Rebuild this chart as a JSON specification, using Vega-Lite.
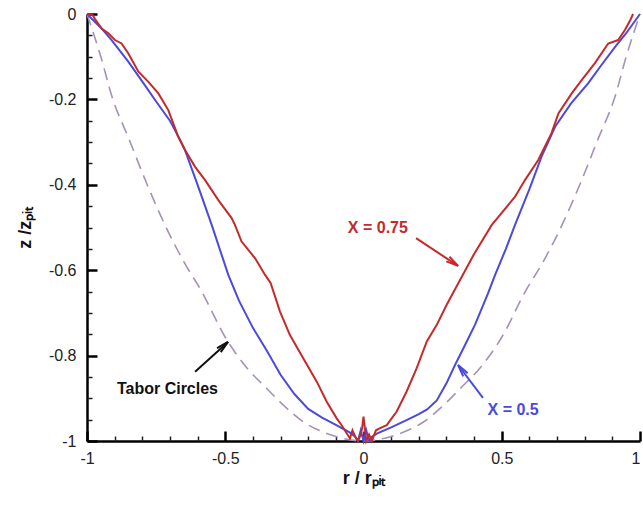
{
  "$schema": "https://vega.github.io/schema/vega-lite/v6.json",
  "autosize": {"type": "none"},
  "width": 553,
  "height": 427,
  "padding": {"left": 87, "top": 14, "right": 3, "bottom": 65},
  "background": "white",
  "config": {
    "view": {"stroke": null},
    "font": "Liberation Sans",
    "axis": {"grid": false}
  },
  "datasets": {
    "profiles": [
      {"series": "tabor", "r": -1.0, "z": 0},
      {"series": "tabor", "r": -0.95, "z": -0.1},
      {"series": "tabor", "r": -0.908, "z": -0.197},
      {"series": "tabor", "r": -0.85, "z": -0.29},
      {"series": "tabor", "r": -0.784, "z": -0.397},
      {"series": "tabor", "r": -0.718, "z": -0.494},
      {"series": "tabor", "r": -0.65, "z": -0.58},
      {"series": "tabor", "r": -0.585, "z": -0.65},
      {"series": "tabor", "r": -0.5, "z": -0.757},
      {"series": "tabor", "r": -0.42, "z": -0.83},
      {"series": "tabor", "r": -0.35, "z": -0.877},
      {"series": "tabor", "r": -0.28, "z": -0.922},
      {"series": "tabor", "r": -0.218, "z": -0.955},
      {"series": "tabor", "r": -0.15, "z": -0.978},
      {"series": "tabor", "r": -0.097, "z": -0.99},
      {"series": "tabor", "r": 0.0, "z": -1.0},
      {"series": "tabor", "r": 0.097, "z": -0.99},
      {"series": "tabor", "r": 0.15, "z": -0.978},
      {"series": "tabor", "r": 0.218, "z": -0.955},
      {"series": "tabor", "r": 0.28, "z": -0.922},
      {"series": "tabor", "r": 0.35, "z": -0.877},
      {"series": "tabor", "r": 0.42, "z": -0.83},
      {"series": "tabor", "r": 0.5, "z": -0.757},
      {"series": "tabor", "r": 0.585, "z": -0.65},
      {"series": "tabor", "r": 0.65, "z": -0.58},
      {"series": "tabor", "r": 0.718, "z": -0.494},
      {"series": "tabor", "r": 0.784, "z": -0.397},
      {"series": "tabor", "r": 0.85, "z": -0.29},
      {"series": "tabor", "r": 0.908, "z": -0.197},
      {"series": "tabor", "r": 0.95, "z": -0.1},
      {"series": "tabor", "r": 1.0, "z": 0},

      {"series": "x05", "r": -1.0, "z": 0},
      {"series": "x05", "r": -0.95, "z": -0.032},
      {"series": "x05", "r": -0.911, "z": -0.061},
      {"series": "x05", "r": -0.85, "z": -0.112},
      {"series": "x05", "r": -0.796, "z": -0.162},
      {"series": "x05", "r": -0.75, "z": -0.205},
      {"series": "x05", "r": -0.7, "z": -0.25},
      {"series": "x05", "r": -0.682, "z": -0.272},
      {"series": "x05", "r": -0.646, "z": -0.318},
      {"series": "x05", "r": -0.6, "z": -0.4},
      {"series": "x05", "r": -0.549, "z": -0.494},
      {"series": "x05", "r": -0.489, "z": -0.611},
      {"series": "x05", "r": -0.45, "z": -0.672},
      {"series": "x05", "r": -0.4, "z": -0.735},
      {"series": "x05", "r": -0.35, "z": -0.788},
      {"series": "x05", "r": -0.3, "z": -0.845},
      {"series": "x05", "r": -0.25, "z": -0.89},
      {"series": "x05", "r": -0.2, "z": -0.925},
      {"series": "x05", "r": -0.15, "z": -0.945},
      {"series": "x05", "r": -0.1, "z": -0.962},
      {"series": "x05", "r": -0.05, "z": -0.98},
      {"series": "x05", "r": -0.03, "z": -0.99},
      {"series": "x05", "r": -0.02, "z": -1.0},
      {"series": "x05", "r": -0.01, "z": -0.975},
      {"series": "x05", "r": 0.0, "z": -1.0},
      {"series": "x05", "r": 0.01, "z": -0.975},
      {"series": "x05", "r": 0.02, "z": -1.0},
      {"series": "x05", "r": 0.03, "z": -0.99},
      {"series": "x05", "r": 0.05, "z": -0.982},
      {"series": "x05", "r": 0.1, "z": -0.968},
      {"series": "x05", "r": 0.15, "z": -0.953},
      {"series": "x05", "r": 0.2, "z": -0.937},
      {"series": "x05", "r": 0.23, "z": -0.926},
      {"series": "x05", "r": 0.265, "z": -0.905},
      {"series": "x05", "r": 0.3, "z": -0.865},
      {"series": "x05", "r": 0.331, "z": -0.822},
      {"series": "x05", "r": 0.365, "z": -0.778},
      {"series": "x05", "r": 0.403, "z": -0.728},
      {"series": "x05", "r": 0.45, "z": -0.655},
      {"series": "x05", "r": 0.476, "z": -0.611},
      {"series": "x05", "r": 0.515, "z": -0.55},
      {"series": "x05", "r": 0.548, "z": -0.494},
      {"series": "x05", "r": 0.6, "z": -0.41},
      {"series": "x05", "r": 0.644, "z": -0.334},
      {"series": "x05", "r": 0.693, "z": -0.264},
      {"series": "x05", "r": 0.75, "z": -0.21},
      {"series": "x05", "r": 0.813, "z": -0.162},
      {"series": "x05", "r": 0.86, "z": -0.12},
      {"series": "x05", "r": 0.91, "z": -0.077},
      {"series": "x05", "r": 0.95, "z": -0.045},
      {"series": "x05", "r": 1.0, "z": 0},

      {"series": "x075", "r": -1.0, "z": 0},
      {"series": "x075", "r": -0.98, "z": -0.002},
      {"series": "x075", "r": -0.971, "z": -0.012},
      {"series": "x075", "r": -0.947, "z": -0.034},
      {"series": "x075", "r": -0.923, "z": -0.045},
      {"series": "x075", "r": -0.899, "z": -0.061},
      {"series": "x075", "r": -0.875, "z": -0.069},
      {"series": "x075", "r": -0.851, "z": -0.092},
      {"series": "x075", "r": -0.814, "z": -0.135},
      {"series": "x075", "r": -0.778, "z": -0.159},
      {"series": "x075", "r": -0.742, "z": -0.186},
      {"series": "x075", "r": -0.706, "z": -0.225},
      {"series": "x075", "r": -0.67, "z": -0.287},
      {"series": "x075", "r": -0.646, "z": -0.318},
      {"series": "x075", "r": -0.609, "z": -0.358},
      {"series": "x075", "r": -0.573, "z": -0.389},
      {"series": "x075", "r": -0.525, "z": -0.436},
      {"series": "x075", "r": -0.477, "z": -0.478},
      {"series": "x075", "r": -0.465, "z": -0.494},
      {"series": "x075", "r": -0.441, "z": -0.533},
      {"series": "x075", "r": -0.392, "z": -0.572},
      {"series": "x075", "r": -0.356, "z": -0.611},
      {"series": "x075", "r": -0.336, "z": -0.63},
      {"series": "x075", "r": -0.302, "z": -0.697},
      {"series": "x075", "r": -0.266, "z": -0.752},
      {"series": "x075", "r": -0.218, "z": -0.806},
      {"series": "x075", "r": -0.169, "z": -0.861},
      {"series": "x075", "r": -0.133, "z": -0.908},
      {"series": "x075", "r": -0.097, "z": -0.947},
      {"series": "x075", "r": -0.079, "z": -0.963},
      {"series": "x075", "r": -0.049, "z": -0.994},
      {"series": "x075", "r": -0.04, "z": -0.975},
      {"series": "x075", "r": -0.03, "z": -0.99},
      {"series": "x075", "r": -0.02, "z": -1.0},
      {"series": "x075", "r": -0.01, "z": -0.985},
      {"series": "x075", "r": -0.005, "z": -0.97},
      {"series": "x075", "r": 0.0, "z": -0.943},
      {"series": "x075", "r": 0.005, "z": -0.97},
      {"series": "x075", "r": 0.01, "z": -1.0},
      {"series": "x075", "r": 0.02, "z": -0.985},
      {"series": "x075", "r": 0.03, "z": -1.0},
      {"series": "x075", "r": 0.045, "z": -0.975},
      {"series": "x075", "r": 0.06, "z": -0.97},
      {"series": "x075", "r": 0.084, "z": -0.963},
      {"series": "x075", "r": 0.12, "z": -0.931},
      {"series": "x075", "r": 0.156, "z": -0.884},
      {"series": "x075", "r": 0.192, "z": -0.83},
      {"series": "x075", "r": 0.229, "z": -0.767},
      {"series": "x075", "r": 0.265, "z": -0.728},
      {"series": "x075", "r": 0.301, "z": -0.681},
      {"series": "x075", "r": 0.335, "z": -0.64},
      {"series": "x075", "r": 0.4, "z": -0.562},
      {"series": "x075", "r": 0.464, "z": -0.494},
      {"series": "x075", "r": 0.488, "z": -0.475},
      {"series": "x075", "r": 0.548, "z": -0.428},
      {"series": "x075", "r": 0.584, "z": -0.389},
      {"series": "x075", "r": 0.632, "z": -0.342},
      {"series": "x075", "r": 0.68, "z": -0.279},
      {"series": "x075", "r": 0.705, "z": -0.233},
      {"series": "x075", "r": 0.753, "z": -0.186},
      {"series": "x075", "r": 0.789, "z": -0.155},
      {"series": "x075", "r": 0.837, "z": -0.115},
      {"series": "x075", "r": 0.885, "z": -0.069},
      {"series": "x075", "r": 0.921, "z": -0.061},
      {"series": "x075", "r": 0.946, "z": -0.037},
      {"series": "x075", "r": 0.965, "z": -0.014},
      {"series": "x075", "r": 0.975, "z": 0}
    ],
    "arrows": [
      {"label": "tabor", "r1": -0.609, "z1": -0.838, "r2": -0.49, "z2": -0.768, "heading": 48},
      {"label": "x075", "r1": 0.19, "z1": -0.525, "r2": 0.342, "z2": -0.59, "heading": 124},
      {"label": "x05", "r1": 0.432, "z1": -0.899, "r2": 0.342, "z2": -0.822, "heading": 323}
    ],
    "notes": [
      {"label": "tabor", "text": "Tabor Circles", "r": -0.709, "z": -0.879},
      {"label": "x075", "text": "X = 0.75", "r": 0.052, "z": -0.502},
      {"label": "x05", "text": "X = 0.5", "r": 0.541, "z": -0.927}
    ]
  },
  "resolve": {"axis": {"x": "independent", "y": "independent"}},
  "layer": [
    {
      "data": {"name": "profiles"},
      "transform": [{"filter": "datum.series === 'tabor'"}],
      "mark": {"type": "line", "color": "#a692b6", "strokeWidth": 1.6, "strokeDash": [12, 7], "interpolate": "monotone"},
      "encoding": {
        "x": {
          "field": "r", "type": "quantitative",
          "scale": {"domain": [-1, 1], "nice": false, "zero": false},
          "axis": {
            "orient": "bottom",
            "values": [-1, -0.5, 0, 0.5, 1],
            "labelExpr": "toString(datum.value)",
            "labelAlign": {"expr": "datum.value == 1 ? 'right' : 'center'"},
            "tickSize": -10, "tickWidth": 2.5, "tickColor": "black",
            "domainColor": "black", "domainWidth": 2.5,
            "labelFont": "Liberation Sans", "labelFontSize": 16, "labelColor": "#222222",
            "labelPadding": 19, "labelFlush": false,
            "title": "r / rₚᵢₜ", "titleFont": "Liberation Sans", "titleFontSize": 18,
            "titleFontWeight": "bold", "titleColor": "#111111", "titlePadding": 3
          }
        },
        "y": {
          "field": "z", "type": "quantitative",
          "scale": {"domain": [-1, 0], "nice": false, "zero": false},
          "axis": {
            "orient": "left",
            "values": [0, -0.2, -0.4, -0.6, -0.8, -1],
            "labelExpr": "toString(datum.value)",
            "tickSize": -10, "tickWidth": 2.5, "tickColor": "black",
            "domainColor": "black", "domainWidth": 2.5,
            "labelFont": "Liberation Sans", "labelFontSize": 16, "labelColor": "#222222",
            "labelPadding": 21, "labelFlush": false,
            "title": "z /zₚᵢₜ", "titleFont": "Liberation Sans", "titleFontSize": 18,
            "titleFontWeight": "bold", "titleColor": "#111111", "titlePadding": 14
          }
        }
      }
    },
    {
      "data": {"name": "profiles"},
      "transform": [{"filter": "datum.series === 'x05'"}],
      "mark": {"type": "line", "color": "#4a4ade", "strokeWidth": 2},
      "encoding": {
        "x": {
          "field": "r", "type": "quantitative",
          "axis": {
            "orient": "bottom",
            "values": [-0.9, -0.8, -0.7, -0.6, -0.4, -0.3, -0.2, -0.1, 0.1, 0.2, 0.3, 0.4, 0.6, 0.7, 0.8, 0.9],
            "labels": false, "domain": false, "title": null,
            "tickSize": -5, "tickWidth": 1.5, "tickColor": "#222222"
          }
        },
        "y": {
          "field": "z", "type": "quantitative",
          "axis": {
            "orient": "left",
            "values": [-0.05, -0.1, -0.15, -0.25, -0.3, -0.35, -0.45, -0.5, -0.55, -0.65, -0.7, -0.75, -0.85, -0.9, -0.95],
            "labels": false, "domain": false, "title": null,
            "tickSize": -5, "tickWidth": 1.5, "tickColor": "#222222"
          }
        }
      }
    },
    {
      "data": {"name": "profiles"},
      "transform": [{"filter": "datum.series === 'x075'"}],
      "mark": {"type": "line", "color": "#c42a2a", "strokeWidth": 2},
      "encoding": {
        "x": {"field": "r", "type": "quantitative", "axis": null},
        "y": {"field": "z", "type": "quantitative", "axis": null}
      }
    },
    {
      "data": {"name": "arrows"},
      "mark": {"type": "rule", "strokeWidth": 2},
      "encoding": {
        "x": {"field": "r1", "type": "quantitative", "axis": null},
        "y": {"field": "z1", "type": "quantitative", "axis": null},
        "x2": {"field": "r2"},
        "y2": {"field": "z2"},
        "color": {
          "field": "label", "type": "nominal", "legend": null,
          "scale": {"domain": ["tabor", "x075", "x05"], "range": ["#111111", "#c42a2a", "#4a4ade"]}
        }
      }
    },
    {
      "data": {"name": "arrows"},
      "mark": {"type": "point", "shape": "M-0.45,2L0,0L0.45,2", "size": 150, "strokeWidth": 2, "filled": false, "opacity": 1},
      "encoding": {
        "x": {"field": "r2", "type": "quantitative", "axis": null},
        "y": {"field": "z2", "type": "quantitative", "axis": null},
        "angle": {"field": "heading", "type": "quantitative", "scale": null},
        "color": {
          "field": "label", "type": "nominal", "legend": null,
          "scale": {"domain": ["tabor", "x075", "x05"], "range": ["#111111", "#c42a2a", "#4a4ade"]}
        }
      }
    },
    {
      "data": {"name": "notes"},
      "mark": {"type": "text", "font": "Liberation Sans", "fontSize": 16, "fontWeight": "bold", "align": "center", "baseline": "middle"},
      "encoding": {
        "x": {"field": "r", "type": "quantitative", "axis": null},
        "y": {"field": "z", "type": "quantitative", "axis": null},
        "text": {"field": "text"},
        "color": {
          "field": "label", "type": "nominal", "legend": null,
          "scale": {"domain": ["tabor", "x075", "x05"], "range": ["#1a1a1a", "#c42a2a", "#4a4ade"]}
        }
      }
    }
  ]
}
